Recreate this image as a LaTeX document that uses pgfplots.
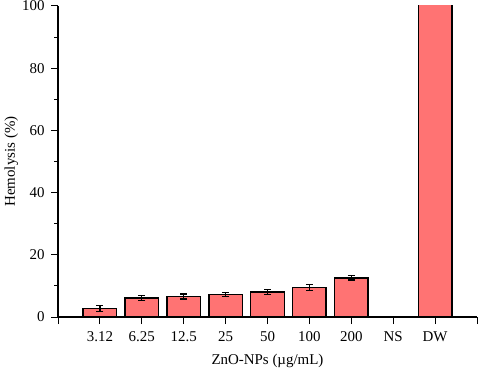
\documentclass[border=0pt]{standalone}
\usepackage{pgfplots}
\pgfplotsset{compat=1.18}
\usepackage{fontspec}
\setmainfont{Liberation Serif}
\definecolor{barred}{RGB}{255,115,115}
\begin{document}
\begin{tikzpicture}
\begin{axis}[
  scale only axis,
  width=419bp, height=311bp,
  xmin=0, xmax=10, ymin=0, ymax=100,
  axis x line*=bottom, axis y line*=left,
  axis line style={line width=1.1pt, black},
  xtick={0,...,10},
  xticklabels={,3.12,6.25,12.5,25,50,100,200,NS,DW,},
  ytick={0,20,...,100},
  minor y tick num=1,
  tick align=outside,
  major tick length=7bp, minor tick length=4bp,
  tick style={line width=1pt, black},
  /pgf/number format/assume math mode=true,
  tick label style={font=\fontsize{15}{17}\selectfont},
  label style={font=\fontsize{15}{17}\selectfont},
  xticklabel style={yshift=-4bp},
  yticklabel style={xshift=-3bp},
  xlabel={ZnO-NPs (µg/mL)},
  ylabel={Hemolysis (\%)},
  xlabel style={yshift=-6bp},
  ylabel style={yshift=-3bp},
  clip=true,
]
\addplot[ybar, bar width=0.8, fill=barred, draw=black, line width=1.4pt,
  error bars/.cd, y dir=both, y explicit,
  error bar style={line width=1.3pt, black},
  error mark options={rotate=90, mark size=3.5bp, line width=1.3pt, black}]
  table[x=x, y=y, y error=e] {
x y e
1 2.7 0.9
2 6.1 0.8
3 6.6 0.8
4 7.2 0.7
5 8.0 0.8
6 9.5 0.9
7 12.6 0.7
9 101 0
};
\end{axis}
\pgfresetboundingbox
\path[use as bounding box] (-58bp,-51bp) rectangle (420bp,317bp);
\end{tikzpicture}
\end{document}
